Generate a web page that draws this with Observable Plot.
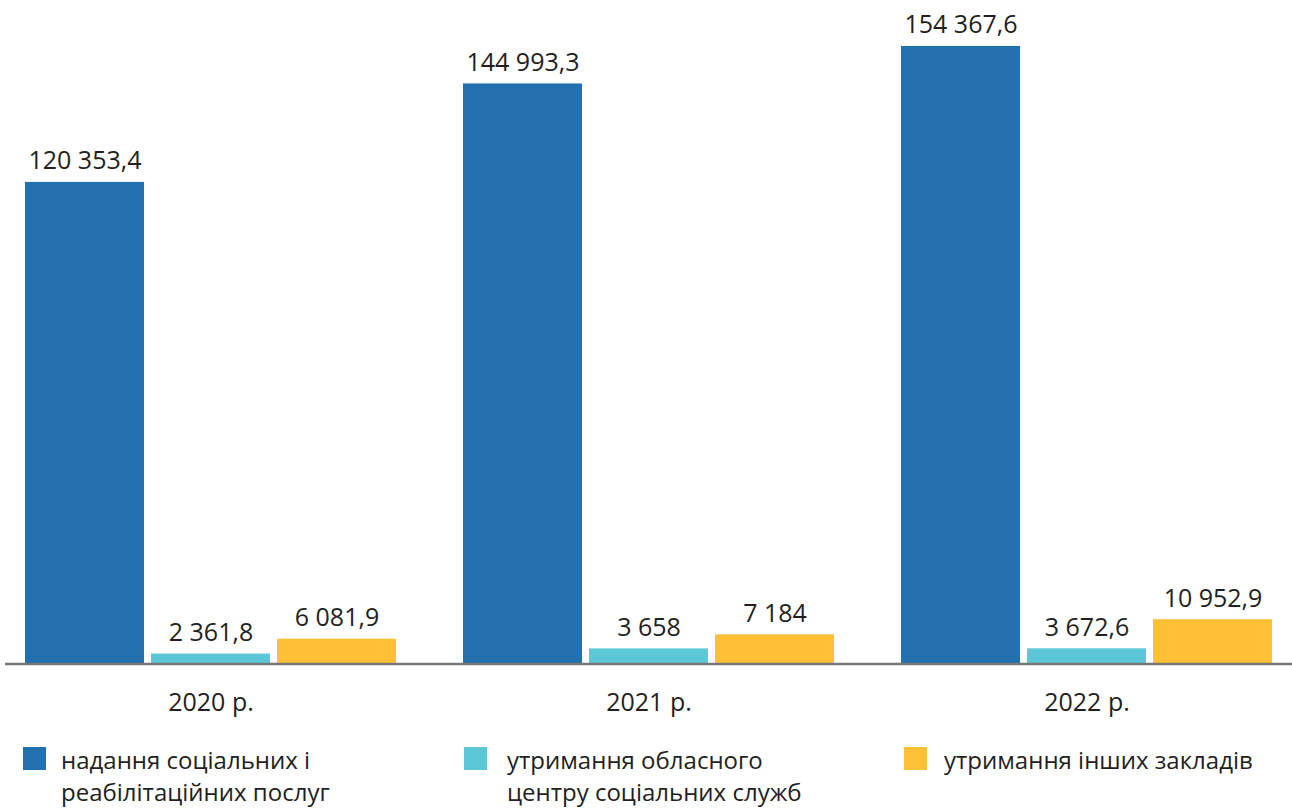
<!DOCTYPE html>
<html>
<head>
<meta charset="utf-8">
<script src="https://cdn.jsdelivr.net/npm/d3@7"></script>
<script src="https://cdn.jsdelivr.net/npm/@observablehq/plot@0.6"></script>
<style>
  html, body { margin: 0; padding: 0; background: #fff; }
  body { width: 1292px; height: 808px; overflow: hidden; font-family: "Open Sans", sans-serif; color: #231f20; }
  #legend { position: relative; height: 78px; font-size: 24px; line-height: 32px; }
  .sw { position: absolute; top: 17px; width: 23px; height: 23px; }
  .lab { position: absolute; top: 14px; white-space: nowrap; }
</style>
</head>
<body>
<div id="chart"></div>
<div id="legend"></div>
<script>
const years = ["2020 р.", "2021 р.", "2022 р."];
const series = ["надання соціальних і реабілітаційних послуг", "утримання обласного центру соціальних служб", "утримання інших закладів"];
const legendLines = [["надання соціальних і", "реабілітаційних послуг"], ["утримання обласного", "центру соціальних служб"], ["утримання інших закладів"]];
const colors = ["#2270ad", "#5cc8d7", "#fec035"];
const valuesSocial = [120353.4, 144993.3, 154367.6];
const valuesCenter = [2361.8, 3658, 3672.6];
const valuesOther = [6081.9, 7184, 10952.9];

const seriesValues = [valuesSocial, valuesCenter, valuesOther];
const data = [];
years.forEach((y, i) => series.forEach((s, j) => data.push({year: y, series: s, value: seriesValues[j][i]})));

const fmt = d3.formatLocale({decimal: ",", thousands: " ", grouping: [3], currency: ["", ""]}).format(",");

const W = 1292, H = 730;
const chart = Plot.plot({
  width: W,
  height: H,
  marginLeft: 5,
  marginRight: 0,
  marginTop: 0,
  marginBottom: 67,
  style: {fontFamily: "Open Sans, sans-serif", fontSize: "25px", color: "#231f20", background: "#fff"},
  fx: {domain: years, paddingInner: 0.1526, paddingOuter: 0.0422, label: null, axis: null},
  x: {domain: series, paddingInner: 0.0556, paddingOuter: 0, axis: null},
  y: {domain: [0, 165870], axis: null},
  color: {domain: series, range: colors},
  marks: [
    Plot.axisFx({anchor: "bottom", tickSize: 0, tickPadding: 30, fontSize: 25, label: null, fill: "#231f20"}),
    Plot.barY(data, {fx: "year", x: "series", y: "value", fill: "series"}),
    Plot.text(data, {fx: "year", x: "series", y: "value", text: d => fmt(d.value), lineAnchor: "bottom", dy: -13, fontSize: 25, fill: "#231f20"})
  ]
});
document.getElementById("chart").appendChild(chart);

// baseline across full width
const svg = d3.select(chart);
const y0 = chart.scale("y").apply(0);
svg.append("line").attr("x1", 5).attr("x2", W).attr("y1", y0 + 1).attr("y2", y0 + 1)
  .attr("stroke", "#777").attr("stroke-width", 2.5);

// legend
const legend = document.getElementById("legend");
const swLefts = [23, 464, 904];
const labLefts = [61, 507, 944];
series.forEach((s, i) => {
  const sw = document.createElement("div");
  sw.className = "sw";
  sw.style.left = swLefts[i] + "px";
  sw.style.background = colors[i];
  const lab = document.createElement("div");
  lab.className = "lab";
  lab.style.left = labLefts[i] + "px";
  lab.innerHTML = legendLines[i].join("<br>");
  legend.appendChild(sw); legend.appendChild(lab);
});
</script>
</body>
</html>
